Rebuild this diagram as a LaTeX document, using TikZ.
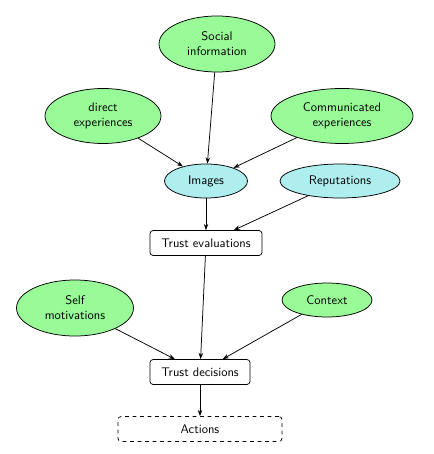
\documentclass[tikz,border=0pt]{standalone}
\usetikzlibrary{shapes.geometric,arrows.meta}
\definecolor{gfill}{RGB}{152,251,152}
\definecolor{cfill}{RGB}{175,238,238}
\begin{document}
\begin{tikzpicture}[x=0.8pt,y=-0.8pt,
  font=\sffamily,
  ell/.style={ellipse,draw,line width=0.6pt,inner sep=0pt,align=center},
  green/.style={ell,fill=gfill},
  cyan/.style={ell,fill=cfill},
  boxnode/.style={draw,rounded corners=2.5pt,line width=0.6pt,inner sep=0pt,minimum height=20pt},
  arr/.style={-{Stealth[length=5pt,width=3.6pt]},line width=0.6pt}]
\useasboundingbox (0,0) rectangle (433,454);
\node[green,minimum width=92.8pt,minimum height=44.8pt] (soc) at (217,44) {Social\\information};
\node[green,minimum width=92.8pt,minimum height=44pt] (dir) at (103,116) {direct\\experiences};
\node[green,minimum width=113.6pt,minimum height=44pt] (com) at (342,116) {Communicated\\experiences};
\node[cyan,minimum width=66.4pt,minimum height=27.2pt] (img) at (206,181) {Images};
\node[cyan,minimum width=96pt,minimum height=27.2pt] (rep) at (340,181) {Reputations};
\node[boxnode,minimum width=89.6pt] (te) at (206,243) {Trust evaluations};
\node[green,minimum width=93.6pt,minimum height=44.8pt] (self) at (75,308) {Self\\motivations};
\node[green,minimum width=72pt,minimum height=27.2pt] (ctx) at (327,300) {Context};
\node[boxnode,minimum width=80pt] (td) at (200,372) {Trust decisions};
\node[boxnode,dashed,minimum width=131.2pt] (act) at (200,429) {Actions};
\draw[arr] (soc) -- (img);
\draw[arr] (dir) -- (img);
\draw[arr] (com) -- (img);
\draw[arr] (img) -- (te);
\draw[arr] (rep) -- (te);
\draw[arr] (te) -- (td);
\draw[arr] (self) -- (td);
\draw[arr] (ctx) -- (td);
\draw[arr] (td) -- (act);
\end{tikzpicture}
\end{document}
